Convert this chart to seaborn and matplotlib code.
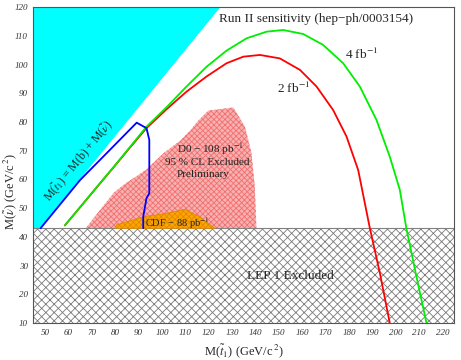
import numpy as np
import pandas as pd
import matplotlib
matplotlib.use("Agg")
import matplotlib.pyplot as plt
import seaborn as sns
from matplotlib.ticker import MultipleLocator

# Run II sensitivity curves
red_x = [58.5, 66, 73.5, 80, 86, 93.4, 102, 110.5, 119.1, 127.6, 134.8, 141.9, 150.4, 159,
         166.1, 173.2, 178.9, 183.9, 188.9, 193.2, 197.4]
red_y = [44, 51.3, 58.6, 64.9, 70.8, 77.9, 84.5, 90.6, 95.9, 100.5, 102.8, 103.4, 102.2, 98.2,
         92.4, 84.2, 75, 63.3, 43, 27.3, 10]
green_x = [58.5, 66, 73.5, 80, 86, 93.4, 102, 110.5, 119.1, 127.6, 136.2, 144.7, 151.8, 160.4,
           168.9, 177.5, 184.6, 191.7, 197.4, 201.7, 204.5, 208.8, 213.1]
green_y = [44, 51.3, 58.7, 65, 71, 78.4, 85.2, 92.4, 99.3, 104.9, 109.2, 111.5, 112.1, 110.7,
           106.9, 100.5, 92.4, 80.8, 68, 56.4, 43, 26.2, 10]

# CDF limit contour (blue)
blue_x = [48.1, 65, 73.5, 89.2, 93.4, 94.6, 94.6, 93.4, 92, 92]
blue_y = [43, 59.8, 66.8, 79.8, 77.9, 73.8, 55.2, 53.5, 47, 43]

# excluded regions
kin_x = [45, 47.9, 124.9, 45]
kin_y = [43, 43, 120, 120]
d0_x = [67.4, 79.5, 84.2, 93.4, 100.6, 107.7, 112, 115.5, 119.8, 130.5, 135.5, 138.3, 139.7, 140.4]
d0_y = [43, 55.5, 58.5, 63.5, 69.1, 73.5, 77, 80.5, 84, 85.1, 78.4, 69.1, 57.5, 43]
cdf_x = [79.9, 80.6, 92, 102, 109.8, 116.2, 122.6]
cdf_y = [43, 44.2, 47, 48.2, 49.6, 47, 43]
lep_top = 43

sns.set_style("ticks")
plt.rcParams['font.family'] = ['Liberation Serif', 'DejaVu Serif']
plt.rcParams['mathtext.fontset'] = 'stix'
plt.rcParams['hatch.linewidth'] = 0.6

fig = plt.figure(figsize=(4.61, 3.6), dpi=100)
ax = fig.add_axes([0.0722, 0.1028, 0.9133, 0.8769])

# LEP 1 band
ax.fill_between([45, 225], 10, lep_top, facecolor='white', edgecolor='#7a7a7a',
                hatch='xxxx', linewidth=0, zorder=1)
ax.axhline(lep_top, color='#808080', lw=0.8, zorder=2)

ax.fill(kin_x, kin_y, facecolor='#00ffff', edgecolor='none', zorder=1)
ax.fill(d0_x, d0_y, facecolor='#f9b0b0', edgecolor='#f07070', hatch='xxxxxx', linewidth=0, zorder=1)
ax.fill(cdf_x, cdf_y, facecolor='#ffa500', edgecolor='#e08a00', hatch='xxxxxx', linewidth=0.6, zorder=2)

curves = pd.DataFrame({
    'x': red_x + green_x + blue_x,
    'y': red_y + green_y + blue_y,
    'lumi': ['2'] * len(red_x) + ['4'] * len(green_x) + ['cdf'] * len(blue_x),
})
sns.lineplot(data=curves, x='x', y='y', hue='lumi', sort=False, estimator=None,
             palette={'2': '#ff0000', '4': '#00ee00', 'cdf': '#0000ff'},
             lw=1.3, legend=False, ax=ax, zorder=3)

ax.set_xlim(45, 225)
ax.set_ylim(10, 120)
ax.xaxis.set_major_locator(MultipleLocator(10))
ax.xaxis.set_minor_locator(MultipleLocator(5))
ax.yaxis.set_major_locator(MultipleLocator(10))
ax.yaxis.set_minor_locator(MultipleLocator(5))
ax.tick_params(which='both', direction='in', top=False, right=False, length=3, width=0.6,
               labelsize=6.5, colors='#333333', pad=4)
ax.tick_params(which='minor', length=1.5)
for lab in ax.get_xticklabels() + ax.get_yticklabels():
    lab.set_fontstyle('italic')
for sp in ax.spines.values():
    sp.set_color('#555555')
    sp.set_linewidth(0.8)
    sp.set_zorder(5)

ax.set_xlabel(r'M($\tilde{t}_1$) (GeV/c$^{\,2}$)', fontsize=9, labelpad=4)
ax.set_ylabel(r'M($\tilde{\nu}$) (GeV/c$^{\,2}$)', fontsize=9)
ax.yaxis.set_label_coords(-0.035, 0.415)

ax.text(166, 116, 'Run II sensitivity (hep\u2212ph/0003154)', fontsize=9.5, ha='center', va='center')
ax.text(178.2, 103.4, r'4 fb$^{-1}$', fontsize=9.5, va='center')
ax.text(149, 91.8, r'2 fb$^{-1}$', fontsize=9.5, va='center')
ax.text(106.3, 70.6, 'D0 \u2212 108 pb$^{-1}$', fontsize=8, va='center', color='#222222')
ax.text(101.3, 65.9, '95 % CL Excluded', fontsize=8, va='center', color='#222222')
ax.text(106.3, 61.7, 'Preliminary', fontsize=8, va='center', color='#222222')
ax.text(92.7, 44.8, 'CDF \u2212 88 pb$^{-1}$', fontsize=7.5, va='center', color='#222222', zorder=4)
ax.text(136.2, 26.5, 'LEP 1 Excluded', fontsize=9.5, va='center', zorder=4)
ax.text(64.3, 66.5, r'M($\tilde{t}_1$) = M(b) + M($\tilde{\nu}$)', fontsize=8.5,
        rotation=50.7, ha='center', va='center', rotation_mode='anchor')

fig.savefig('out.png', dpi=100)
